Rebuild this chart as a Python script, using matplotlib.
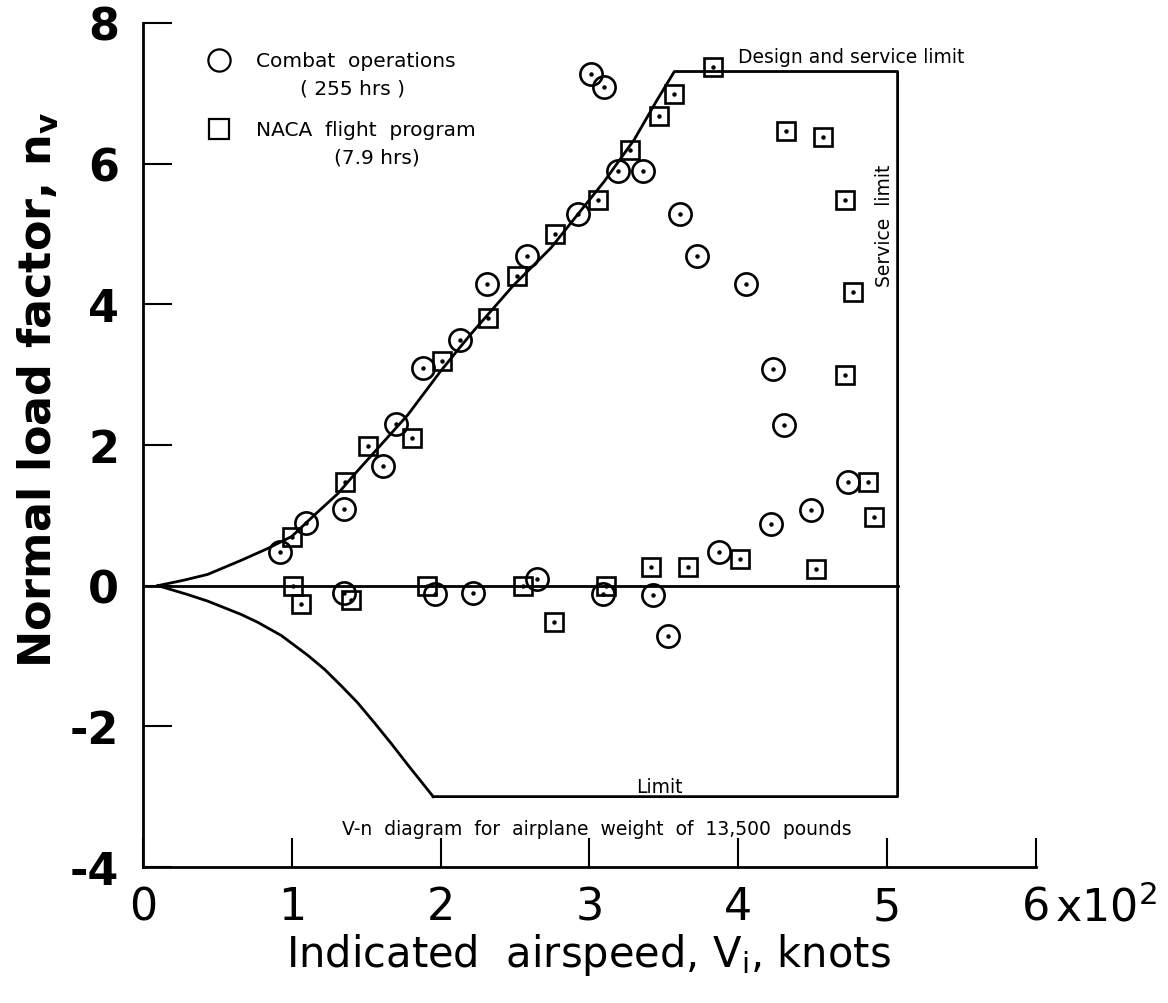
import matplotlib
matplotlib.use("Agg")
import matplotlib.pyplot as plt

# Combat operations (circles), speed in 10^2 knots, load factor
combat_v = [0.92, 1.095, 1.35, 1.61, 1.70, 1.88, 2.13, 2.31, 2.58, 2.92, 3.19, 3.36,
            3.01, 3.10, 3.61, 3.72, 4.05, 4.23, 4.31, 4.74, 4.22, 4.49, 3.87, 2.65,
            1.35, 1.96, 2.22, 3.09, 3.43, 3.53]
combat_n = [0.48, 0.89, 1.09, 1.70, 2.30, 3.09, 3.49, 4.29, 4.69, 5.28, 5.89, 5.89,
            7.28, 7.09, 5.28, 4.69, 4.29, 3.08, 2.28, 1.48, 0.87, 1.07, 0.48, 0.10,
            -0.11, -0.12, -0.11, -0.12, -0.13, -0.71]

# NACA flight program (squares)
naca_v = [1.00, 1.355, 1.51, 1.81, 2.01, 2.32, 2.51, 2.77, 3.06, 3.27, 3.47, 3.57,
          3.83, 4.32, 4.57, 4.72, 4.77, 4.72, 4.87, 4.91, 4.01, 3.41, 3.66, 4.52,
          3.11, 1.005, 1.06, 1.40, 1.91, 2.55, 2.76]
naca_n = [0.69, 1.47, 1.99, 2.10, 3.19, 3.80, 4.40, 5.00, 5.49, 6.20, 6.68, 6.99,
          7.37, 6.47, 6.38, 5.48, 4.18, 2.99, 1.48, 0.98, 0.38, 0.27, 0.27, 0.23,
          0.0, 0.0, -0.26, -0.20, 0.0, -0.01, -0.52]

# V-n diagram boundary
upper_v = [0.10, 0.28, 0.435, 0.66, 0.84, 1.0, 1.15, 1.31, 1.42, 1.78, 2.0, 2.20,
           2.485, 2.74, 3.10, 3.30, 3.45, 3.57, 5.07, 5.07, 1.95]
upper_n = [0.0, 0.08, 0.16, 0.36, 0.53, 0.70, 1.0, 1.31, 1.58, 2.43, 3.05, 3.57,
           4.26, 4.80, 5.75, 6.34, 6.89, 7.31, 7.31, -3.0, -3.0]
lower_v = [1.95, 1.78, 1.67, 1.555, 1.44, 1.33, 1.22, 1.107, 0.93, 0.77, 0.66,
           0.435, 0.29, 0.10]
lower_n = [-3.0, -2.55, -2.25, -1.95, -1.66, -1.42, -1.19, -0.99, -0.71, -0.52, -0.41,
           -0.22, -0.12, 0.0]
zero_v = [0.0, 5.07]
zero_n = [0.0, 0.0]

xticks = [0, 1, 2, 3, 4, 5, 6]
yticks = [-4, -2, 0, 2, 4, 6, 8]

fig = plt.figure(figsize=(11.68, 10.04), dpi=100)
ax = fig.add_axes([0.1224, 0.1355, 0.7646, 0.8406])

lw = 2.0
ax.plot(upper_v, upper_n, color="black", lw=lw)
ax.plot(lower_v, lower_n, color="black", lw=lw)
ax.plot(zero_v, zero_n, color="black", lw=lw)

ax.plot(combat_v, combat_n, linestyle="none", marker="o", ms=16, mfc="none",
        mec="black", mew=1.9)
ax.plot(combat_v, combat_n, linestyle="none", marker="o", ms=2.2, color="black")
ax.plot(naca_v, naca_n, linestyle="none", marker="s", ms=13.5, mfc="none",
        mec="black", mew=1.9)
ax.plot(naca_v, naca_n, linestyle="none", marker="o", ms=2.2, color="black")

# legend drawn as in the original
ax.plot([0.51], [7.47], marker="o", ms=16, mfc="none", mec="black", mew=1.6)
ax.plot([0.51], [6.49], marker="s", ms=14, mfc="none", mec="black", mew=1.6)
small = dict(fontsize=14.5, color="black")
ax.text(0.76, 7.47, "Combat  operations", va="center", ha="left", **small)
ax.text(1.41, 7.08, "( 255 hrs )", va="center", ha="center", **small)
ax.text(0.76, 6.49, "NACA  flight  program", va="center", ha="left", **small)
ax.text(1.57, 6.10, "(7.9 hrs)", va="center", ha="center", **small)

ax.text(4.0, 7.53, "Design and service limit", va="center", ha="left", fontsize=13.5)
ax.text(4.98, 5.13, "Service  limit", va="center", ha="center", rotation=90,
        fontsize=13.5)
ax.text(3.47, -2.85, "Limit", va="center", ha="center", fontsize=13.5)
ax.text(3.05, -3.46, "V-n  diagram  for  airplane  weight  of  13,500  pounds",
        va="center", ha="center", fontsize=13.5)

ax.set_xlim(0, 6)
ax.set_ylim(-4, 8)
ax.spines["top"].set_visible(False)
ax.spines["right"].set_visible(False)
ax.spines["left"].set_linewidth(2)
ax.spines["bottom"].set_linewidth(2)
ax.set_xticks(xticks)
ax.set_xticklabels([str(t) for t in xticks])
ax.set_yticks(yticks)
ax.set_yticklabels([str(t) for t in yticks], fontweight="bold")
ax.tick_params(direction="in", length=21, width=1.5)
ax.tick_params(axis="x", labelsize=32, pad=13)
ax.tick_params(axis="y", labelsize=32, pad=17)
ax.annotate("x10$^\\mathregular{2}$", xy=(6, -4), xycoords="data",
            xytext=(14, -13), textcoords="offset points", ha="left", va="top",
            fontsize=32)

fig.text(0.504, 0.049, "Indicated  airspeed, V$_\\mathregular{i}$, knots",
         ha="center", va="center", fontsize=30)
fig.text(0.0325, 0.612, "Normal load factor, n$_\\mathregular{v}$", ha="center",
         va="center", rotation=90, fontsize=32, fontweight="bold")

fig.savefig("out.png", dpi=100)
